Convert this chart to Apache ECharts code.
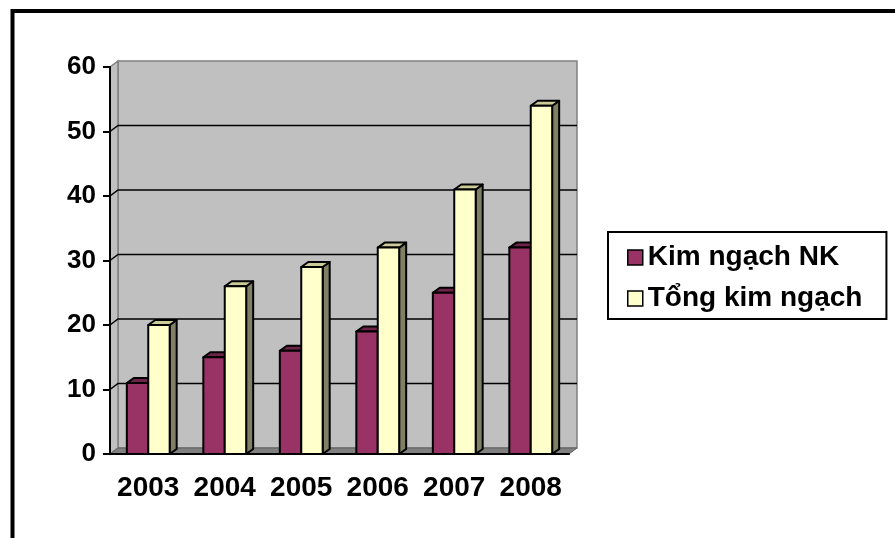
<!DOCTYPE html>
<html>
<head>
<meta charset="utf-8">
<script src="https://cdn.jsdelivr.net/npm/echarts@6/dist/echarts.min.js"></script>
<style>
  html, body { margin: 0; padding: 0; background: #fff; }
  #chart { width: 895px; height: 538px; }
</style>
</head>
<body>
<div id="chart"></div>
<script>
// Import turnover vs total trade turnover, 2003-2008
const years = ['2003', '2004', '2005', '2006', '2007', '2008'];
const importValues = [11, 15, 16, 19, 25, 32];
const totalValues = [20, 26, 29, 32, 41, 54];
const yTickValues = [0, 10, 20, 30, 40, 50, 60];
const seriesNames = ['Kim ngạch NK', 'Tổng kim ngạch'];

const FONT = '"Liberation Sans", Arial, sans-serif';
// depth offsets for the pseudo-3D look: walls and bars
const WALL_DX = 8, WALL_DY = -6;
const BAR_DX = 7, BAR_DY = -5;
const palette = [
  { front: '#993366', top: '#6e2449', side: '#4d1933' },
  { front: '#FFFFCC', top: '#CCCC99', side: '#808066' }
];

// back wall, side wall, floor and gridlines drawn in depth
function renderWalls(params, api) {
  const cs = params.coordSys;
  const L = cs.x, R = cs.x + cs.width, T = cs.y, B = cs.y + cs.height;
  const children = [];
  children.push({
    type: 'rect',
    shape: { x: L + WALL_DX, y: T + WALL_DY, width: R - L, height: B - T },
    style: { fill: '#C0C0C0', stroke: '#808080', lineWidth: 1.5 }
  });
  children.push({
    type: 'polygon',
    shape: { points: [[L, T], [L + WALL_DX, T + WALL_DY], [L + WALL_DX, B + WALL_DY], [L, B]] },
    style: { fill: '#C0C0C0', stroke: '#808080', lineWidth: 1.5 }
  });
  yTickValues.forEach(function (v) {
    if (v === 0 || v === yTickValues[yTickValues.length - 1]) return;
    const y = api.coord([0, v])[1];
    children.push({
      type: 'polyline',
      shape: { points: [[L, y], [L + WALL_DX, y + WALL_DY], [R + WALL_DX, y + WALL_DY]] },
      style: { fill: null, stroke: '#000', lineWidth: 1.5 }
    });
  });
  children.push({
    type: 'polygon',
    shape: { points: [[L, B], [R, B], [R + WALL_DX, B + WALL_DY], [L + WALL_DX, B + WALL_DY]] },
    style: { fill: '#808080', stroke: '#606060', lineWidth: 1 }
  });
  return { type: 'group', children: children };
}

function barRenderer(k) {
  return function (params, api) {
    const cat = api.value(0), v = api.value(1);
    const base = api.coord([cat, 0]);
    const top = api.coord([cat, v]);
    const band = api.size([1, 0])[0];
    const w = band * 0.28;
    const x0 = base[0] - w + k * w;
    const x1 = x0 + w;
    const y0 = base[1], y1 = top[1];
    const c = palette[k];
    const edge = { stroke: '#000', lineWidth: 2, lineJoin: 'round' };
    return {
      type: 'group',
      children: [
        { type: 'polygon', shape: { points: [[x1, y0], [x1 + BAR_DX, y0 + BAR_DY], [x1 + BAR_DX, y1 + BAR_DY], [x1, y1]] },
          style: Object.assign({ fill: c.side }, edge) },
        { type: 'polygon', shape: { points: [[x0, y1], [x1, y1], [x1 + BAR_DX, y1 + BAR_DY], [x0 + BAR_DX, y1 + BAR_DY]] },
          style: Object.assign({ fill: c.top }, edge) },
        { type: 'rect', shape: { x: x0, y: y1, width: w, height: y0 - y1 },
          style: Object.assign({ fill: c.front }, edge) }
      ]
    };
  };
}

const chart = echarts.init(document.getElementById('chart'), null, { renderer: 'canvas' });

chart.setOption({
  backgroundColor: '#ffffff',
  animation: false,
  graphic: [{
    type: 'rect',
    shape: { x: 12.5, y: 11, width: 1000, height: 1000 },
    style: { fill: 'none', stroke: '#000', lineWidth: 4 },
    z: 100
  }],
  legend: {
    orient: 'vertical',
    left: 608,
    top: 232,
    padding: [11, 24, 6, 19],
    itemGap: 12,
    itemWidth: 15,
    itemHeight: 15,
    itemTextGap: 5,
    borderColor: '#000',
    borderWidth: 2,
    backgroundColor: '#fff',
    icon: 'rect',
    textStyle: { fontFamily: FONT, fontWeight: 'bold', fontSize: 28, color: '#000', lineHeight: 29 },
    data: seriesNames.map(function (n, i) {
      return { name: n, itemStyle: { color: palette[i].front, borderColor: '#000', borderWidth: 1.5 } };
    })
  },
  grid: { left: 110, top: 67, width: 459, height: 387 },
  xAxis: {
    type: 'category',
    data: years,
    boundaryGap: true,
    axisLine: { lineStyle: { color: '#000', width: 2 } },
    axisTick: { length: 7, lineStyle: { color: '#000', width: 2 } },
    axisLabel: { interval: 0, fontFamily: FONT, fontWeight: 'bold', fontSize: 28, color: '#000', margin: 20 },
    splitLine: { show: false }
  },
  yAxis: {
    type: 'value',
    min: yTickValues[0],
    max: yTickValues[yTickValues.length - 1],
    interval: 10,
    axisLine: { show: true, lineStyle: { color: '#000', width: 2 } },
    axisTick: { show: true, length: 7, lineStyle: { color: '#000', width: 2 } },
    axisLabel: { fontFamily: FONT, fontWeight: 'bold', fontSize: 26, color: '#000', margin: 14 },
    splitLine: { show: false }
  },
  series: [
    {
      type: 'custom',
      name: '_walls',
      silent: true,
      z: 0,
      renderItem: renderWalls,
      data: [[0, 0]],
      clip: false
    },
    {
      type: 'custom',
      name: seriesNames[0],
      itemStyle: { color: palette[0].front },
      renderItem: barRenderer(0),
      encode: { x: 0, y: 1 },
      data: years.map(function (y, i) { return [i, importValues[i]]; }),
      z: 2
    },
    {
      type: 'custom',
      name: seriesNames[1],
      itemStyle: { color: palette[1].front },
      renderItem: barRenderer(1),
      encode: { x: 0, y: 1 },
      data: years.map(function (y, i) { return [i, totalValues[i]]; }),
      z: 3
    }
  ]
});
</script>
</body>
</html>
